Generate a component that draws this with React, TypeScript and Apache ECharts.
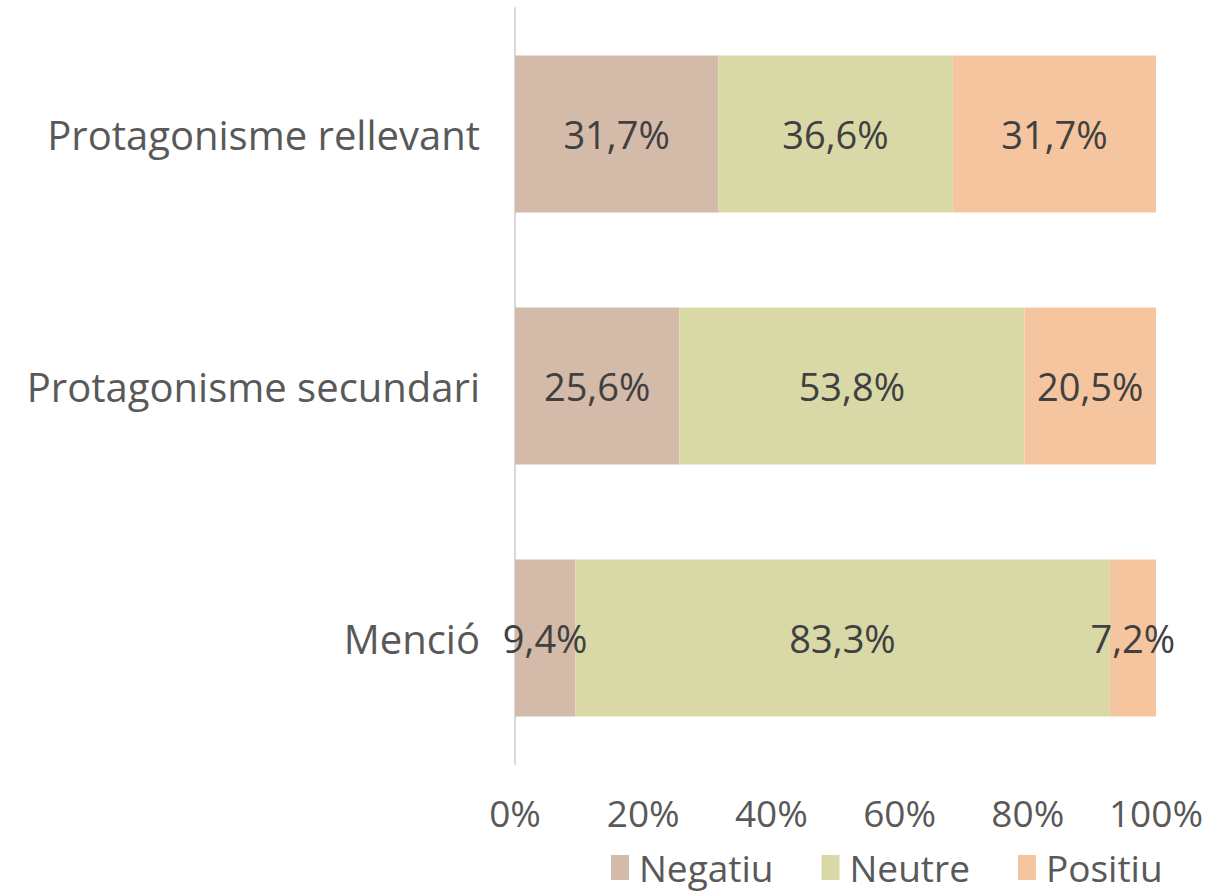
import React, { useEffect, useRef } from "react";
import * as echarts from "echarts";

const categories = ["Menció", "Protagonisme secundari", "Protagonisme rellevant"];
const seriesNames = ["Negatiu", "Neutre", "Positiu"];
const negatiu = [9.4, 25.6, 31.7];
const neutre = [83.3, 53.8, 36.6];
const positiu = [7.2, 20.5, 31.7];
const colors = ["#d4baa8", "#d9d8a7", "#f4c59f"];
const tickLabels = ["0%", "20%", "40%", "60%", "80%", "100%"];

const FONT = "'Open Sans', sans-serif";

export default function App() {
  const ref = useRef<HTMLDivElement>(null);
  useEffect(() => {
    if (!ref.current) return;
    const chart = echarts.init(ref.current, undefined, { renderer: "svg" });
    const raw = [negatiu, neutre, positiu];
    const totals = categories.map((_, i) => negatiu[i] + neutre[i] + positiu[i]);
    const series = raw.map((arr, s) => ({
      name: seriesNames[s],
      type: "bar",
      stack: "total",
      barWidth: 157,
      itemStyle: { color: colors[s] },
      label: {
        show: true,
        position: "inside",
        fontFamily: FONT,
        fontSize: 38,
        color: "#404040",
        formatter: (p: any) => arr[p.dataIndex].toFixed(1).replace(".", ",") + "%",
      },
      data: arr.map((v, i) => (v / totals[i]) * 100),
    }));
    chart.setOption({
      animation: false,
      textStyle: { fontFamily: FONT },
      grid: { left: 515, right: 60, top: 8, bottom: 130, containLabel: false },
      legend: {
        data: seriesNames,
        left: 606,
        top: 844,
        itemWidth: 18,
        itemHeight: 25,
        itemGap: 48,
        icon: "rect",
        textStyle: { fontFamily: FONT, fontSize: 37, lineHeight: 37, color: "#595959", padding: [0, 0, 0, 5] },
      },
      xAxis: {
        type: "value",
        min: 0,
        max: 100,
        interval: 20,
        splitLine: { show: false },
        axisLine: { show: false },
        axisTick: { show: false },
        axisLabel: {
          fontFamily: FONT,
          fontSize: 37,
          color: "#595959",
          margin: 30,
          formatter: (v: number) => tickLabels[Math.round(v / 20)],
        },
      },
      yAxis: {
        type: "category",
        data: categories,
        axisLine: { show: true, lineStyle: { color: "#d9d9d9", width: 2 } },
        axisTick: { show: false },
        axisLabel: { fontFamily: FONT, fontSize: 40, color: "#595959", margin: 35 },
      },
      series,
    });
    return () => chart.dispose();
  }, []);
  return <div ref={ref} style={{ width: 1216, height: 894, position: "absolute", left: 0, top: 0 }} />;
}
